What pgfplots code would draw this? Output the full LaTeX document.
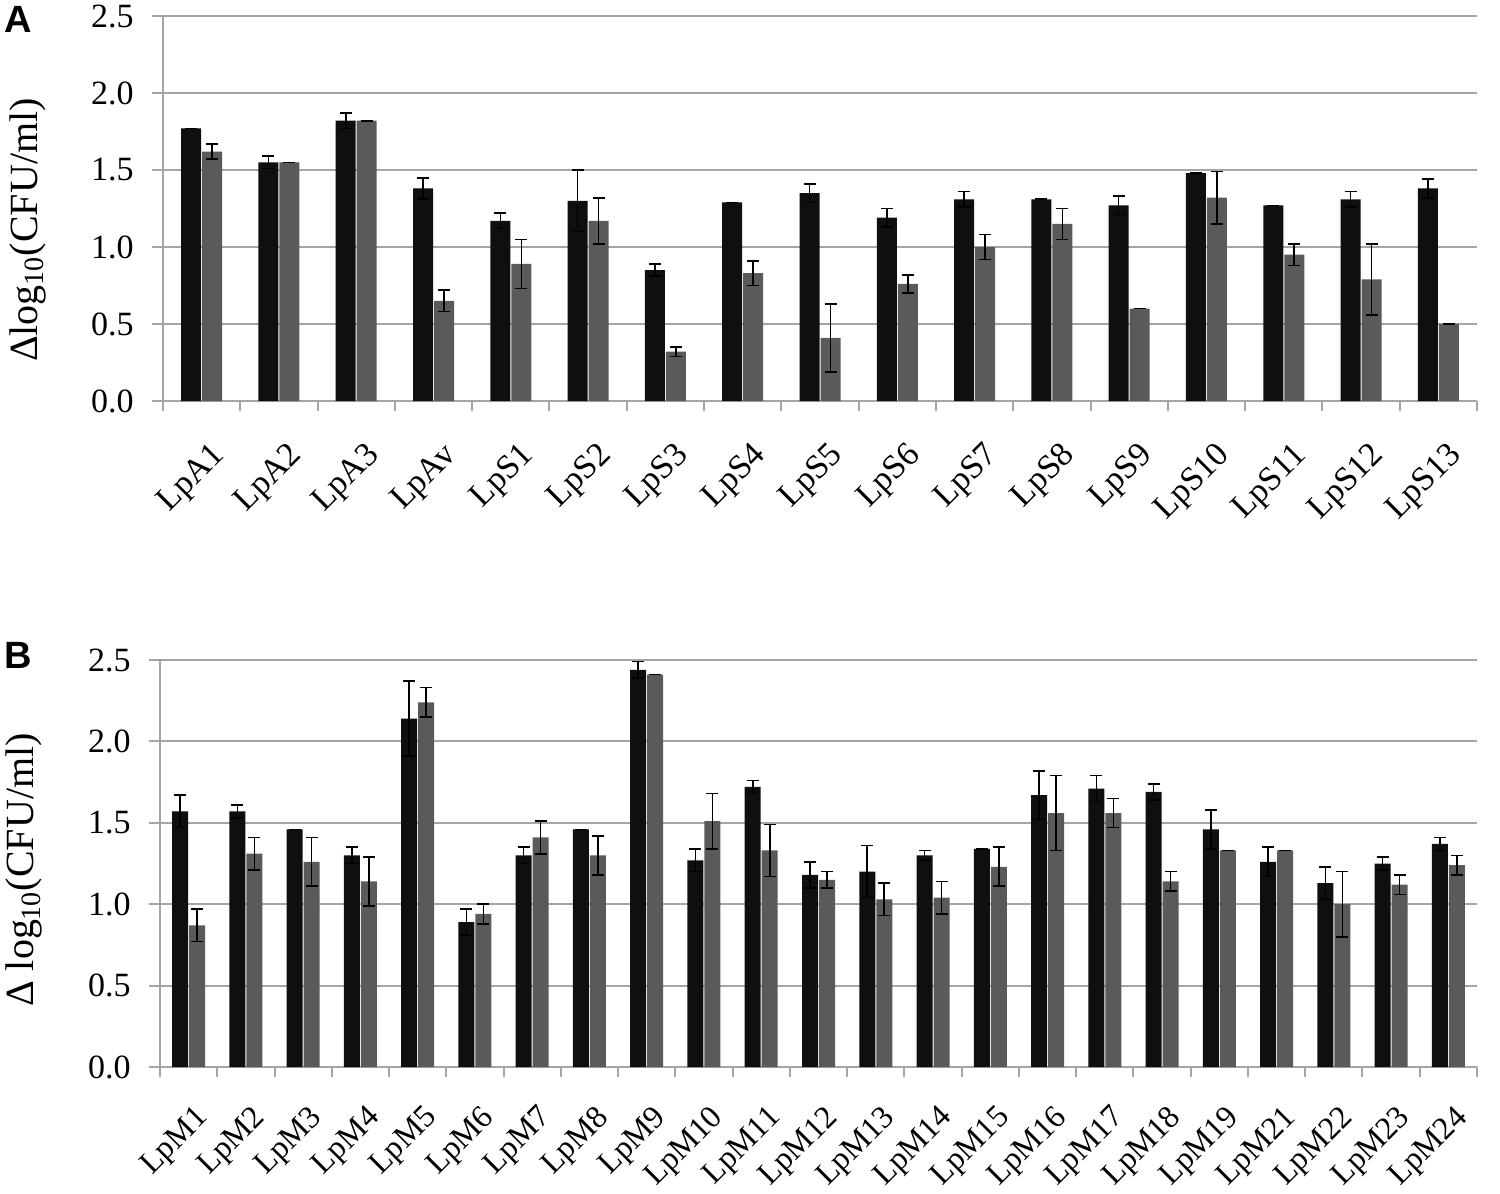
\documentclass[border=0pt]{standalone}
\usepackage{fontspec}
\setmainfont{Liberation Serif}
\newfontfamily\panelfont{Liberation Sans}
\usepackage{pgfplots}
\usepackage{pgfplotstable}
\pgfplotsset{compat=1.18}
\definecolor{barblack}{RGB}{15,15,15}
\definecolor{bargrey}{RGB}{90,90,90}
\definecolor{gridgrey}{RGB}{165,165,165}

% panel A: x, black bar, its error, grey bar, its error
\pgfplotstableread{
x  b    be    g    ge
0  1.77 0.00  1.62 0.05
1  1.55 0.04  1.55 0.00
2  1.82 0.05  1.82 0.00
3  1.38 0.07  0.65 0.07
4  1.17 0.05  0.89 0.16
5  1.30 0.20  1.17 0.15
6  0.85 0.04  0.32 0.03
7  1.29 0.00  0.83 0.08
8  1.35 0.06  0.41 0.22
9  1.19 0.06  0.76 0.06
10 1.31 0.05  1.00 0.08
11 1.31 0.00  1.15 0.10
12 1.27 0.06  0.60 0.00
13 1.48 0.00  1.32 0.17
14 1.27 0.00  0.95 0.07
15 1.31 0.05  0.79 0.23
16 1.38 0.06  0.50 0.00
}\dataA

% panel B
\pgfplotstableread{
x  b    be    g    ge
0  1.57 0.10  0.87 0.10
1  1.57 0.04  1.31 0.10
2  1.46 0.00  1.26 0.15
3  1.30 0.05  1.14 0.15
4  2.14 0.23  2.24 0.09
5  0.89 0.08  0.94 0.06
6  1.30 0.05  1.41 0.10
7  1.46 0.00  1.30 0.12
8  2.44 0.05  2.41 0.00
9  1.27 0.07  1.51 0.17
10 1.72 0.04  1.33 0.16
11 1.18 0.08  1.15 0.05
12 1.20 0.16  1.03 0.10
13 1.30 0.03  1.04 0.10
14 1.34 0.00  1.23 0.12
15 1.67 0.15  1.56 0.23
16 1.71 0.08  1.56 0.09
17 1.69 0.05  1.14 0.06
18 1.46 0.12  1.33 0.00
19 1.26 0.09  1.33 0.00
20 1.13 0.10  1.00 0.20
21 1.25 0.04  1.12 0.06
22 1.37 0.04  1.24 0.06
}\dataB

\pgfplotsset{
  panel/.style={
    scale only axis, clip=false,
    ymin=0, ymax=2.5, ytick={0,0.5,...,2.5},
    axis x line*=bottom, axis y line*=left,
    axis line style={gridgrey, line width=1pt, -},
    ymajorgrids, grid style={gridgrey, line width=1pt},
    tick align=outside,
    major tick length=5.5pt, minor tick length=5pt,
    major x tick style={draw=none},
    minor x tick style={gridgrey, line width=1pt},
    ytick style={gridgrey, line width=1pt},
    tick label style={font=\fontsize{17}{20}\selectfont},
    yticklabel style={anchor=east, inner xsep=9pt, /pgf/number format/.cd, fixed, fixed zerofill, precision=1, assume math mode=true},
    x tick label style={yshift=-14pt, xshift=4pt, rotate=45, anchor=north east, inner sep=0pt},
    ylabel style={font=\fontsize{20}{23}\selectfont, anchor=center},
    error bars/error bar style={black, line width=0.8pt},
    error bars/error mark options={rotate=90, mark size=3pt, line width=0.8pt, black},
  }
}

\begin{document}
\begin{tikzpicture}
\path[use as bounding box] (-81.5pt,200.5pt) rectangle (668.5pt,-396.5pt);

\begin{axis}[panel, name=A, at={(0,0)}, anchor=south west,
    width=657pt, height=192.5pt,
    ybar=0.5pt, bar width=10pt,
    xmin=-0.5, xmax=16.5,
    xtick={0,...,16}, minor xtick={-0.5,0.5,...,16.5},
    xticklabels={LpA1,LpA2,LpA3,LpAv,LpS1,LpS2,LpS3,LpS4,LpS5,LpS6,LpS7,LpS8,LpS9,LpS10,LpS11,LpS12,LpS13},
    ylabel={Δlog\textsubscript{10}(CFU/ml)},
    ylabel style={at={(axis description cs:-0.103,0.444)}},
  ]
  \addplot[fill=barblack, draw=none, error bars/.cd, y dir=both, y explicit]
    table[x=x, y=b, y error=be] {\dataA};
  \addplot[fill=bargrey, draw=none, error bars/.cd, y dir=both, y explicit]
    table[x=x, y=g, y error=ge] {\dataA};
  \node[font=\panelfont\bfseries\fontsize{19}{22}\selectfont] at (axis description cs:-0.11,0.99) {A};
\end{axis}

\begin{axis}[panel, name=B, at={(-1.5pt,-333pt)}, anchor=south west,
    width=658.5pt, height=203.5pt,
    ybar=0.5pt, bar width=8pt,
    xmin=-0.5, xmax=22.5,
    xtick={0,...,22}, minor xtick={-0.5,0.5,...,22.5},
    xticklabels={LpM1,LpM2,LpM3,LpM4,LpM5,LpM6,LpM7,LpM8,LpM9,LpM10,LpM11,LpM12,LpM13,LpM14,LpM15,LpM16,LpM17,LpM18,LpM19,LpM21,LpM22,LpM23,LpM24},
    x tick label style={font=\fontsize{16}{19}\selectfont, yshift=2pt},
    ylabel={Δ log\textsubscript{10}(CFU/ml)},
    ylabel style={at={(axis description cs:-0.103,0.484)}},
  ]
  \addplot[fill=barblack, draw=none, error bars/.cd, y dir=both, y explicit]
    table[x=x, y=b, y error=be] {\dataB};
  \addplot[fill=bargrey, draw=none, error bars/.cd, y dir=both, y explicit]
    table[x=x, y=g, y error=ge] {\dataB};
  \node[font=\panelfont\bfseries\fontsize{19}{22}\selectfont] at (axis description cs:-0.108,1.012) {B};
\end{axis}
\end{tikzpicture}
\end{document}
